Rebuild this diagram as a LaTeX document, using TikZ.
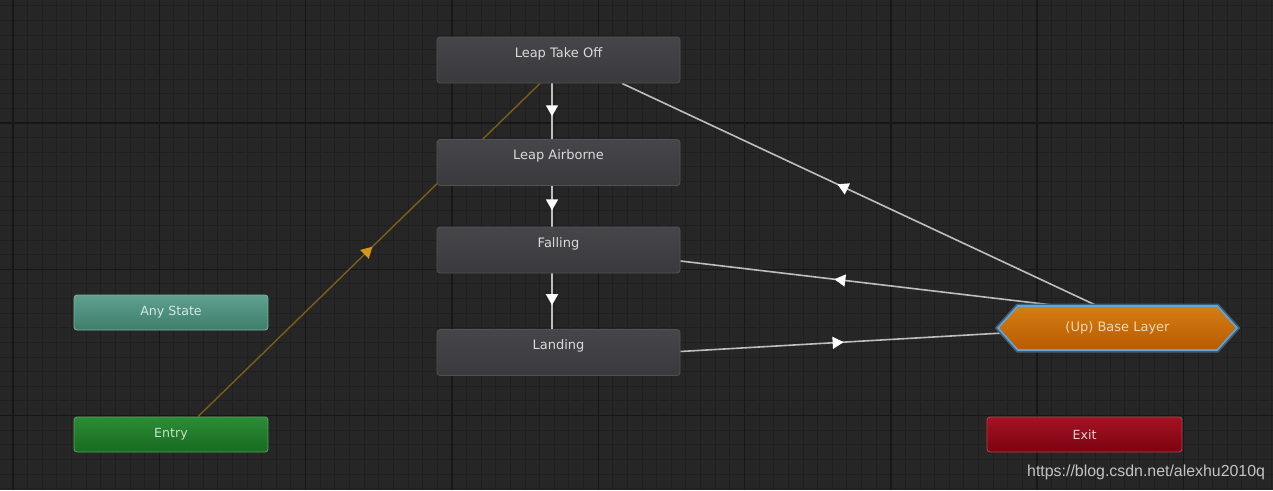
\documentclass[tikz,border=0pt]{standalone}
\usepackage{fontspec}
\setmainfont{DejaVu Sans}
\newfontfamily\urlfont{Liberation Sans}
\usepackage{tikz}
\usetikzlibrary{positioning, arrows.meta, shapes.symbols, decorations.markings}

\definecolor{canvas}{HTML}{262626}
\definecolor{minorline}{HTML}{1F1F1F}
\definecolor{majorline}{HTML}{171717}
\definecolor{stateTop}{HTML}{46464A}
\definecolor{stateBot}{HTML}{3A3A3D}
\definecolor{stateEdge}{HTML}{525256}
\definecolor{stateText}{HTML}{DADADA}
\definecolor{anyTop}{HTML}{5FA08E}
\definecolor{anyBot}{HTML}{3E7D6C}
\definecolor{entryTop}{HTML}{2C8C36}
\definecolor{entryBot}{HTML}{176B20}
\definecolor{exitTop}{HTML}{A31222}
\definecolor{exitBot}{HTML}{7C0312}
\definecolor{baseTop}{HTML}{D47E12}
\definecolor{baseBot}{HTML}{B85A02}
\definecolor{glow}{HTML}{5FA6DC}
\definecolor{wire}{HTML}{BEBEBE}
\definecolor{entryWire}{HTML}{7C5E1C}
\definecolor{entryTip}{HTML}{D5961E}
\definecolor{wmark}{HTML}{C4C4C4}

\pgfdeclarelayer{grid}
\pgfdeclarelayer{edges}
\pgfsetlayers{grid,edges,main}

\begin{document}
\begin{tikzpicture}[x=1pt, y=-1pt,
    state/.style={rectangle, draw=stateEdge, line width=0.8pt, top color=stateTop,
                  bottom color=stateBot, rounded corners=3pt, minimum width=243pt,
                  minimum height=46pt, text=stateText, font=\fontsize{13}{15}\selectfont,
                  text height=9.5pt, text depth=15pt},
    special/.style={rectangle, line width=0.8pt, rounded corners=3pt, minimum width=194pt,
                    minimum height=35pt, font=\fontsize{12.6}{14}\selectfont},
    wire/.style={draw=wire, line width=1.6pt},
    mid arrow/.style 2 args={postaction={decorate}, decoration={markings,
        mark=at position #1 with {\arrow[#2]{Triangle[length=11pt, width=12pt]}}}}
]
    \useasboundingbox (0,0) rectangle (1273,490);

    % === Grid ===
    \begin{pgfonlayer}{grid}
        \fill[canvas] (0,0) rectangle (1273,490);
        \begin{scope}
            \clip (0,0) rectangle (1273,490);
            \foreach \k in {-1,...,86}
                \draw[minorline, line width=1pt] (13+14.63*\k,0) -- (13+14.63*\k,490);
            \foreach \k in {-9,...,25}
                \draw[minorline, line width=1pt] (0,123+14.63*\k) -- (1273,123+14.63*\k);
            \foreach \k in {0,...,8}
                \draw[majorline, line width=1.4pt] (13+146.3*\k,0) -- (13+146.3*\k,490);
            \foreach \k in {-1,...,3}
                \draw[majorline, line width=1.4pt] (0,123+146.3*\k) -- (1273,123+146.3*\k);
        \end{scope}
    \end{pgfonlayer}

    % === States ===
    \node[state] (takeoff) at (558.5,60) {Leap Take Off};
    \node[state] (airborne) at (558.5,162.5) {Leap Airborne};
    \node[state] (falling) at (558.5,250) {Falling};
    \node[state] (landing) at (558.5,352.5) {Landing};

    \node[special, draw=anyTop!80!white, top color=anyTop, bottom color=anyBot,
          text=anyTop!25!white] (anystate) at (171,312.5) {Any State};
    \node[special, draw=entryTop!80!white, top color=entryTop, bottom color=entryBot,
          text=entryTop!25!white] (entry) at (171,434.5) {Entry};
    \node[special, minimum width=195pt, draw=exitTop!80!white, top color=exitTop,
          bottom color=exitBot, text=exitTop!20!white] (exit) at (1084.5,434.5) {Exit};

    \node[signal, signal to=east and west, signal pointer angle=96, minimum width=239pt,
          minimum height=44pt, top color=baseTop, bottom color=baseBot, draw=glow,
          line width=1.6pt, preaction={draw=glow!45!canvas, line width=5pt},
          text=baseTop!30!white, font=\fontsize{13}{15}\selectfont] (base) at (1117.5,328)
        {(Up) Base Layer};

    % === Transitions ===
    \begin{pgfonlayer}{edges}
        \draw[wire, mid arrow={0.59}{white}] ([xshift=-6.5]takeoff.south) -- ([xshift=-6.5]airborne.north);
        \draw[wire, mid arrow={0.6}{white}] ([xshift=-6.5]airborne.south) -- ([xshift=-6.5]falling.north);
        \draw[wire, mid arrow={0.57}{white}] ([xshift=-6.5]falling.south) -- ([xshift=-6.5]landing.north);

        \draw[draw=entryWire, line width=1.4pt, mid arrow={0.51}{entryTip}]
            ([xshift=27]entry.north) -- ([xshift=-18.5]takeoff.south);

        \draw[wire, mid arrow={0.547}{white}] ([xshift=-20,yshift=22]base.center) -- ([xshift=63.5]takeoff.south);
        \draw[wire, mid arrow={0.595}{white}] ([xshift=-57,yshift=22]base.center) -- ([yshift=-11]falling.east);
        \draw[wire, mid arrow={0.48}{white}] ([yshift=1]landing.east) -- ([xshift=-97,yshift=-4]base.center);
    \end{pgfonlayer}

    % Watermark
    \node[anchor=base west, inner sep=0pt, text=wmark, font=\urlfont\fontsize{15.9}{18}\selectfont]
        (wm) at (1027,476) {https://blog.csdn.net/alexhu2010q};

\end{tikzpicture}
\end{document}
